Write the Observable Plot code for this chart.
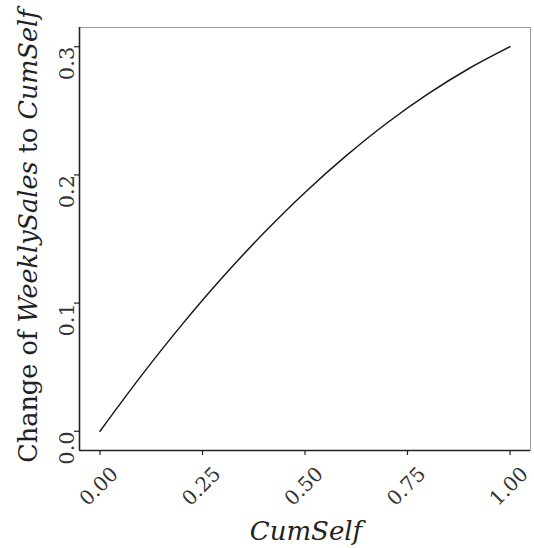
<!DOCTYPE html>
<html><head><meta charset="utf-8">
<script src="https://cdn.jsdelivr.net/npm/d3@7"></script>
<script src="https://cdn.jsdelivr.net/npm/@observablehq/plot@0.6"></script>
<style>html,body{margin:0;padding:0;background:#fff}</style>
</head><body><div id="chart"></div>
<script>
const cumSelf = [0.0, 0.1, 0.2, 0.3, 0.4, 0.5, 0.6, 0.7, 0.8, 0.9, 1.0];
const change  = [0.000, 0.0430, 0.0832, 0.1205, 0.1548, 0.1863, 0.2148, 0.2405, 0.2632, 0.2830, 0.300];
const xTicks = [0, 0.25, 0.5, 0.75, 1];
const yTicks = [0, 0.1, 0.2, 0.3];
const xDomain = [-0.05, 1.05];
const yDomain = [-0.015, 0.315];

const data = cumSelf.map((x, i) => ({x, y: change[i]}));
const FONT = "DejaVu Serif";

const plot = Plot.plot({
  width: 534, height: 548,
  marginLeft: 79, marginRight: 4, marginTop: 27, marginBottom: 98,
  style: {fontFamily: FONT, background: "#fff", color: "#222"},
  x: {domain: xDomain},
  y: {domain: yDomain},
  marks: [
    Plot.frame({stroke: "#999", strokeWidth: 1}),
    Plot.ruleX([xDomain[0]], {stroke: "#222", strokeWidth: 1.6}),
    Plot.ruleY([yDomain[0]], {stroke: "#222", strokeWidth: 1.6}),
    Plot.axisX({ticks: xTicks, tickSize: 5, tickFormat: () => "", stroke: "#222", strokeWidth: 1.2, label: null}),
    Plot.axisY({ticks: yTicks, tickSize: 5, tickFormat: () => "", stroke: "#222", strokeWidth: 1.2, label: null}),
    Plot.text(xTicks, {x: d => d, frameAnchor: "bottom", text: d => d.toFixed(2), rotate: -45,
      textAnchor: "middle", lineAnchor: "middle", dx: -1, dy: 36, fontSize: 20, fill: "#333"}),
    Plot.text(yTicks, {y: d => d, frameAnchor: "left", text: d => d.toFixed(1), rotate: -90,
      textAnchor: "end", lineAnchor: "bottom", dx: -6, fontSize: 21, fill: "#333"}),
    Plot.line(data, {x: "x", y: "y", curve: "catmull-rom", stroke: "#1a1a1a", strokeWidth: 1.5})
  ]
});
document.getElementById("chart").appendChild(plot);

const svg = d3.select(plot);
const yt = svg.append("text")
  .attr("transform", "translate(37,236) rotate(-90)")
  .attr("text-anchor", "middle")
  .attr("font-family", FONT).attr("font-size", 25.5).attr("fill", "#222");
yt.append("tspan").text("Change of ");
yt.append("tspan").attr("font-style", "italic").text("WeeklySales");
yt.append("tspan").text(" to ");
yt.append("tspan").attr("font-style", "italic").text("CumSelf");

svg.append("text")
  .attr("x", 306).attr("y", 540)
  .attr("text-anchor", "middle")
  .attr("font-family", FONT).attr("font-size", 26).attr("font-style", "italic").attr("fill", "#222")
  .text("CumSelf");
</script>
</body></html>
